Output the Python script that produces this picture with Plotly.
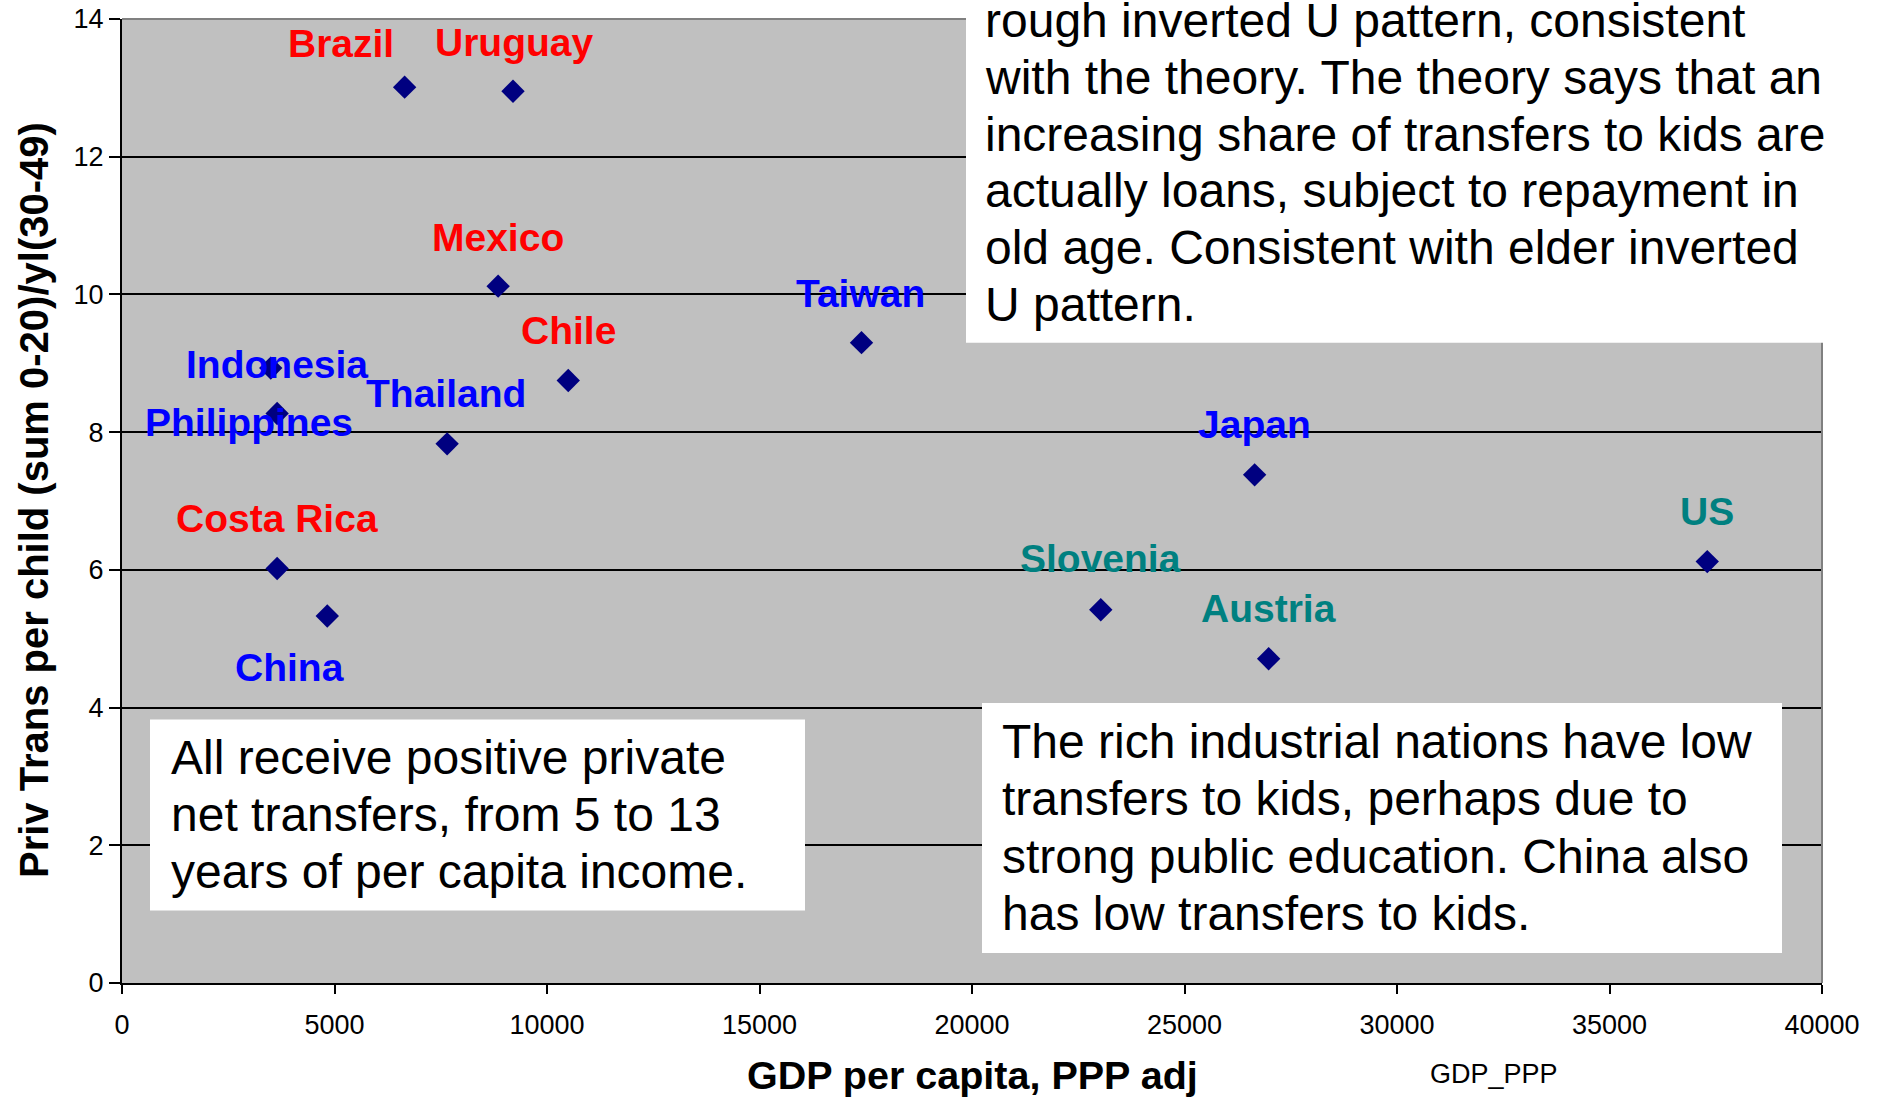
import plotly.graph_objects as go

# ---------------- data ----------------
countries = ["Brazil", "Uruguay", "Mexico", "Taiwan", "Indonesia", "Chile",
             "Philippines", "Thailand", "Costa Rica", "China", "Japan",
             "Slovenia", "Austria", "US"]
gdp_ppp = [6650, 9200, 8850, 17400, 3500, 10500, 3650, 7650, 3650, 4830,
           26650, 23030, 26980, 37300]
priv_trans = [13.01, 12.95, 10.12, 9.30, 8.93, 8.75, 8.27, 7.83, 6.02, 5.33,
              7.38, 5.42, 4.71, 6.12]
region = ["Latin America", "Latin America", "Latin America", "Asia", "Asia",
          "Latin America", "Asia", "Asia", "Latin America", "Asia", "Asia",
          "Industrial", "Industrial", "Industrial"]

x_ticks = [0, 5000, 10000, 15000, 20000, 25000, 30000, 35000, 40000]
y_ticks = [0, 2, 4, 6, 8, 10, 12, 14]

note_top = ["rough inverted U pattern, consistent",
            "with the theory. The theory says that an",
            "increasing share of transfers to kids are",
            "actually loans, subject to repayment in",
            "old age. Consistent with elder inverted",
            "U pattern."]
note_left = ["All receive positive private",
             "net transfers, from 5 to 13",
             "years of per capita income."]
note_right = ["The rich industrial nations have low",
              "transfers to kids, perhaps due to",
              "strong public education. China also",
              "has low transfers to kids."]

x_title = "GDP per capita, PPP adj"
y_title = "Priv Trans per child (sum 0-20)/yl(30-49)"
series_name = "GDP_PPP"

# ---------------- style ----------------
FONT = "Liberation Sans, Arial, sans-serif"
REGION_COLOR = {"Latin America": "#FF0000", "Asia": "#0000FF", "Industrial": "#008080"}
# label offsets in pixels (dx right, dy up) relative to the marker
LABEL_OFFSET = {
    "Brazil": (-64, 44), "Uruguay": (1, 49), "Mexico": (0, 49), "Taiwan": (-1, 49),
    "Indonesia": (6, 4), "Chile": (0, 50), "Philippines": (-28, -9),
    "Thailand": (-1, 50), "Costa Rica": (0, 50), "China": (-38, -52),
    "Japan": (0, 50), "Slovenia": (0, 51), "Austria": (0, 50), "US": (0, 50),
}

# the page body margin is removed (see post_script), so figure px == page px
W, H = 1883, 1097
# plot area in page pixels: x 122..1822, y 19..983
L, T = 122, 19
R = W - 1822
B = H - 983
PW, PH = W - L - R, H - T - B


def fx(p):
    """page x pixel -> paper coordinate"""
    return (p - L) / PW


def fy(p):
    """page y pixel -> paper coordinate"""
    return (T + PH - p) / PH


fig = go.Figure()
fig.add_trace(go.Scatter(
    x=gdp_ppp, y=priv_trans, mode="markers", name=series_name,
    marker=dict(symbol="diamond", size=18, color="#000080", line=dict(width=0)),
    showlegend=False, cliponaxis=False, hoverinfo="skip",
))

annotations = []
for c, gx, ty, rg in zip(countries, gdp_ppp, priv_trans, region):
    dx, dy = LABEL_OFFSET[c]
    annotations.append(dict(
        x=gx, y=ty, xref="x", yref="y", text=c, showarrow=False,
        xanchor="center", yanchor="middle", xshift=dx, yshift=dy,
        font=dict(family=FONT, size=39, color=REGION_COLOR[rg], weight="bold"),
    ))

shapes = []
# plot-area border (grey on top and right)
shapes.append(dict(type="line", xref="paper", yref="paper", x0=0, x1=1, y0=1, y1=1,
                   line=dict(color="#808080", width=2), layer="above"))
shapes.append(dict(type="line", xref="paper", yref="paper", x0=1, x1=1, y0=0, y1=1,
                   line=dict(color="#808080", width=2), layer="above"))


def add_box(x0, x1, y0, y1):
    shapes.append(dict(type="rect", xref="paper", yref="paper",
                       x0=fx(x0), x1=fx(x1), y0=fy(y1), y1=fy(y0),
                       fillcolor="white", line=dict(width=0), layer="above"))


def add_lines(lines, xleft, ycenter0, step):
    for i, t in enumerate(lines):
        annotations.append(dict(
            x=fx(xleft), y=fy(ycenter0 + i * step), xref="paper", yref="paper",
            text=t, showarrow=False, xanchor="left", yanchor="middle",
            borderpad=0, borderwidth=0,
            font=dict(family=FONT, size=48, color="black"),
        ))


add_box(966, 1823, -5, 342.7)
add_box(150, 805, 719.4, 910.5)
add_box(982, 1782, 703, 953)
add_lines(note_top, 985, 20.5, 56.8)
add_lines(note_left, 171, 757.5, 57.2)
add_lines(note_right, 1002, 741.4, 57.5)

# axis titles
annotations.append(dict(x=fx(972), y=fy(1074.5), xref="paper", yref="paper",
                        text=x_title, showarrow=False, xanchor="center", yanchor="middle",
                        font=dict(family=FONT, size=39.5, color="black", weight="bold")))
annotations.append(dict(x=fx(34), y=fy(500), xref="paper", yref="paper",
                        text=y_title, showarrow=False, xanchor="center", yanchor="middle",
                        textangle=-90,
                        font=dict(family=FONT, size=40, color="black", weight="bold")))
annotations.append(dict(x=fx(1494), y=fy(1074), xref="paper", yref="paper",
                        text=series_name, showarrow=False, xanchor="center", yanchor="middle",
                        font=dict(family=FONT, size=27, color="black")))

fig.update_layout(
    width=W, height=H, autosize=False,
    margin=dict(l=L, r=R, t=T, b=B, pad=0, autoexpand=False),
    paper_bgcolor="white", plot_bgcolor="#C0C0C0",
    font=dict(family=FONT, size=27, color="black"),
    annotations=annotations, shapes=shapes, showlegend=False,
)
fig.update_xaxes(
    range=[0, 40000], tickmode="array", tickvals=x_ticks,
    ticktext=[str(v) for v in x_ticks],
    showgrid=False, zeroline=False, automargin=False,
    showline=True, linecolor="black", linewidth=2,
    ticks="outside", ticklen=9, tickwidth=2, tickcolor="black",
    ticklabelstandoff=8, ticklabeloverflow="allow",
    tickfont=dict(family=FONT, size=27, color="black"),
)
fig.update_yaxes(
    range=[0, 14], tickmode="array", tickvals=y_ticks,
    ticktext=[str(v) for v in y_ticks],
    showgrid=True, gridcolor="black", gridwidth=2, zeroline=False, automargin=False,
    showline=True, linecolor="black", linewidth=2,
    ticks="outside", ticklen=11, tickwidth=2, tickcolor="black",
    ticklabeloverflow="allow",
    tickfont=dict(family=FONT, size=27, color="black"),
)

fig.write_html(
    "out.html",
    config={"displayModeBar": False},
    post_script="document.body.style.margin='0px';document.body.style.overflow='hidden';",
)
